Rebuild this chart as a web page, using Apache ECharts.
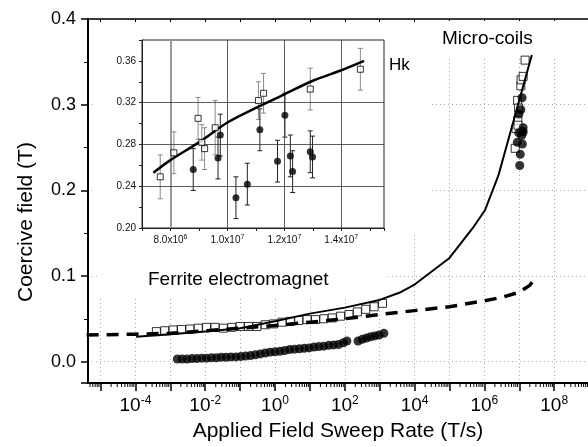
<!DOCTYPE html>
<html>
<head>
<meta charset="utf-8">
<script src="https://cdn.jsdelivr.net/npm/echarts@6/dist/echarts.min.js"></script>
<style>
html, body { margin: 0; padding: 0; background: #fff; }
#chart { width: 588px; height: 447px; }
</style>
</head>
<body>
<div id="chart"></div>
<script>
/* main plot: x is log10 of the sweep rate (T/s), y is coercive field (T) */
var ferriteSqX = [-3.40, -3.16, -2.92, -2.68, -2.44, -2.20, -1.96, -1.72, -1.48, -1.24, -1.00, -0.76, -0.52, -0.28,
	-0.04, 0.20, 0.44, 0.68, 0.92, 1.16, 1.40, 1.64, 1.88, 2.12, 2.36, 2.60, 2.84, 3.08];
var ferriteSqY = [0.035, 0.036, 0.037, 0.0375, 0.038, 0.039, 0.040, 0.040, 0.039, 0.040, 0.041, 0.041, 0.041, 0.043,
	0.044, 0.046, 0.047, 0.048, 0.049, 0.049, 0.050, 0.051, 0.053, 0.055, 0.058, 0.061, 0.064, 0.068];

var ferriteDotX = [-2.80, -2.66, -2.52, -2.38, -2.24, -2.10, -1.96, -1.82, -1.68, -1.54, -1.40, -1.26, -1.12, -0.98,
	-0.84, -0.70, -0.56, -0.42, -0.28, -0.14, 0.00, 0.14, 0.28, 0.42, 0.56, 0.70, 0.84, 0.98, 1.12, 1.26, 1.40,
	1.54, 1.68, 1.82, 1.96, 2.06, 2.38, 2.50, 2.62, 2.74, 2.86, 2.98, 3.12];
var ferriteDotY = [0.003, 0.003, 0.003, 0.0035, 0.0035, 0.004, 0.004, 0.0045, 0.0045, 0.005, 0.005, 0.0055, 0.0055, 0.006,
	0.0065, 0.007, 0.008, 0.009, 0.010, 0.011, 0.0115, 0.012, 0.013, 0.014, 0.0145, 0.015, 0.0155, 0.016, 0.017, 0.0175, 0.018,
	0.019, 0.0195, 0.020, 0.022, 0.024, 0.024, 0.026, 0.0275, 0.029, 0.030, 0.031, 0.033];

// solid curve (Hk)
var hkLineX = [-3.98, -3.0, -2.0, -1.0, 0.0, 1.0, 2.0, 3.0, 3.6, 4.0, 5.0, 5.67, 6.02, 6.4, 7.36];
var hkLineY = [0.029, 0.032, 0.035, 0.039, 0.047, 0.056, 0.063, 0.072, 0.081, 0.090, 0.121, 0.156, 0.177, 0.217, 0.358];

// dashed curve
var hcLineX = [-5.4, -4.0, -3.0, -2.0, -1.0, 0.0, 1.0, 2.0, 3.0, 4.0, 5.0, 6.0, 6.5, 7.0, 7.3, 7.45];
var hcLineY = [0.031, 0.032, 0.033, 0.036, 0.039, 0.042, 0.046, 0.050, 0.055, 0.0595, 0.064, 0.071, 0.075, 0.081, 0.089, 0.097];

/* inset + micro-coils: linear sweep rate (T/s) */
var coilSqX = [7.64e6, 8.12e6, 8.97e6, 9.10e6, 9.20e6, 9.57e6, 1.109e7, 1.127e7, 1.291e7, 1.467e7];
var coilSqY = [0.249, 0.272, 0.305, 0.282, 0.276, 0.296, 0.322, 0.329, 0.333, 0.352];
var coilSqErr = [0.021, 0.020, 0.020, 0.017, 0.020, 0.026, 0.018, 0.019, 0.020, 0.020];

var coilDotX = [8.80e6, 9.67e6, 9.75e6, 1.030e7, 1.070e7, 1.114e7, 1.176e7, 1.202e7, 1.221e7, 1.229e7, 1.291e7, 1.299e7];
var coilDotY = [0.256, 0.267, 0.289, 0.229, 0.242, 0.294, 0.264, 0.308, 0.269, 0.254, 0.273, 0.268];
var coilDotErr = [0.020, 0.020, 0.020, 0.020, 0.020, 0.020, 0.020, 0.021, 0.020, 0.020, 0.020, 0.020];

var coilFitX = [7.4e6, 8e6, 9e6, 1e7, 1.1e7, 1.2e7, 1.3e7, 1.4e7, 1.48e7];
var coilFitY = [0.253, 0.265, 0.282, 0.301, 0.315, 0.328, 0.341, 0.351, 0.360];

// axes
var mainXMin = -5.36, mainXMax = 8.97;
var mainYMin = -0.025, mainYMax = 0.4;
var insetXMin = 7e6, insetXMax = 1.55e7;
var insetYMin = 0.2, insetYMax = 0.38;
var insetXTickVals = [8e6, 1e7, 1.2e7, 1.4e7];
var insetXTickText = ['8.0x10', '1.0x10', '1.2x10', '1.4x10'];
var insetXTickExp = ['6', '7', '7', '7'];
var insetGridX = [8e6, 1e7, 1.2e7, 1.4e7];
var insetGridY = [0.24, 0.28, 0.32];

var FONT = '"Liberation Sans", Arial, sans-serif';

function zip(xs, ys) {
	var out = [];
	for (var i = 0; i < xs.length; i++) out.push([xs[i], ys[i]]);
	return out;
}

function zipLog(xs, ys) {
	var out = [];
	for (var i = 0; i < xs.length; i++) out.push([Math.log10(xs[i]), ys[i]]);
	return out;
}

function zipErr(xs, ys, es) {
	var out = [];
	for (var i = 0; i < xs.length; i++) out.push([xs[i], ys[i], es[i]]);
	return out;
}

// minor log ticks 2..9 of every decade inside the main x range
var minorTicks = [];
for (var d = -6; d <= 9; d++) {
	for (var k = 2; k <= 9; k++) {
		var v = d + Math.log10(k);
		if (v > mainXMin && v < mainXMax) minorTicks.push([v, mainYMin]);
	}
}

function renderMinorTick(params, api) {
	var p = api.coord([api.value(0), api.value(1)]);
	return {
		type: 'line',
		shape: { x1: p[0], y1: p[1], x2: p[0], y2: p[1] + 4 },
		style: { stroke: '#000', lineWidth: 1 }
	};
}

function errRenderer(color) {
	return function(params, api) {
		var x = api.value(0), y = api.value(1), e = api.value(2);
		var lo = api.coord([x, y - e]);
		var hi = api.coord([x, y + e]);
		var w = 2.5;
		var st = { stroke: color, lineWidth: 1 };
		return {
			type: 'group',
			children: [
				{ type: 'line', shape: { x1: lo[0], y1: lo[1], x2: hi[0], y2: hi[1] }, style: st },
				{ type: 'line', shape: { x1: lo[0] - w, y1: lo[1], x2: lo[0] + w, y2: lo[1] }, style: st },
				{ type: 'line', shape: { x1: hi[0] - w, y1: hi[1], x2: hi[0] + w, y2: hi[1] }, style: st }
			]
		};
	};
}

var insetMarkData = [];
insetGridX.forEach(function(v, i) {
	insetMarkData.push({ xAxis: v, lineStyle: i === 0 ? { color: '#9a9a9a', width: 2, type: 'solid' } : { color: '#333', width: 0.8, type: 'solid' } });
});
insetGridY.forEach(function(v) {
	insetMarkData.push({ yAxis: v, lineStyle: { color: '#333', width: 0.8, type: 'solid' } });
});

var chart = echarts.init(document.getElementById('chart'));

var option = {
	animation: false,
	backgroundColor: '#fff',
	grid: [
		{ left: 88, top: 19, right: 0, bottom: 60 },
		{ left: 142, top: 40, width: 242, height: 188, show: true, borderColor: '#222', borderWidth: 1,
			backgroundColor: 'transparent', z: 2 }
	],
	xAxis: [
		{
			type: 'value', gridIndex: 0, position: 'bottom', min: mainXMin, max: mainXMax, splitNumber: 14,
			name: 'Applied Field Sweep Rate (T/s)', nameLocation: 'middle', nameGap: 38,
			nameTextStyle: { fontFamily: FONT, fontSize: 21, color: '#000' },
			axisLine: { onZero: false, lineStyle: { color: '#000', width: 2 } },
			axisTick: { length: 8, lineStyle: { color: '#000', width: 1.5 } },
			splitLine: { show: true, lineStyle: { color: '#aaa', type: [1, 3], width: 1 } },
			axisLabel: {
				margin: 12, showMinLabel: false, showMaxLabel: false,
				formatter: function(v) {
					var r = Math.round(v);
					if (Math.abs(v - r) > 1e-6 || r % 2 !== 0) return '';
					return '{b|10}{s|' + r + '}';
				},
				rich: {
					b: { fontFamily: FONT, fontSize: 19, color: '#000' },
					s: { fontFamily: FONT, fontSize: 12, color: '#000', padding: [0, 0, 10, 0] }
				}
			}
		},
		{
			type: 'value', gridIndex: 0, position: 'top', min: mainXMin, max: mainXMax, splitNumber: 14,
			axisLine: { onZero: false, lineStyle: { color: '#000', width: 1.5 } },
			axisTick: { inside: true, length: 4, lineStyle: { color: '#000' } },
			axisLabel: { show: false }, splitLine: { show: false }
		},
		{
			type: 'value', gridIndex: 1, min: insetXMin, max: insetXMax, interval: 1e6, z: 3,
			axisLine: { onZero: false, lineStyle: { color: '#222', width: 1 } },
			axisTick: { length: 3, lineStyle: { color: '#222' } },
			splitLine: { show: false },
			axisLabel: {
				margin: 6,
				formatter: function(v) {
					for (var i = 0; i < insetXTickVals.length; i++) {
						if (Math.abs(v - insetXTickVals[i]) < 1) return '{n|' + insetXTickText[i] + '}{e|' + insetXTickExp[i] + '}';
					}
					return '';
				},
				rich: {
					n: { fontFamily: FONT, fontSize: 10, color: '#111' },
					e: { fontFamily: FONT, fontSize: 7, color: '#111', padding: [0, 0, 6, 0] }
				}
			}
		}
	],
	yAxis: [
		{
			type: 'value', gridIndex: 0, min: mainYMin, max: mainYMax, splitNumber: 4,
			axisLine: { onZero: false, lineStyle: { color: '#000', width: 2 } },
			axisTick: { length: 7, lineStyle: { color: '#000', width: 1.5 } },
			minorTick: { show: true, splitNumber: 2, length: 4, lineStyle: { color: '#000' } },
			splitLine: { show: true, lineStyle: { color: '#aaa', type: [1, 3], width: 1 } },
			axisLabel: {
				showMinLabel: false, margin: 12, fontFamily: FONT, fontSize: 18, color: '#000',
				formatter: function(v) { return v.toFixed(1); }
			}
		},
		{
			type: 'value', gridIndex: 1, min: insetYMin, max: insetYMax, interval: 0.02, z: 3,
			axisLine: { onZero: false, lineStyle: { color: '#222', width: 1 } },
			axisTick: { length: 3, lineStyle: { color: '#222' } },
			splitLine: { show: false },
			axisLabel: {
				margin: 6, fontFamily: FONT, fontSize: 10, color: '#111',
				formatter: function(v) {
					var c = Math.round(v * 100);
					if (c % 4 !== 0 || v > 0.37) return '';
					return v.toFixed(2);
				}
			}
		}
	],
	graphic: [
		{ type: 'rect', z: 1, shape: { x: 95, y: 22, width: 335, height: 210 }, style: { fill: '#fff' } },
		{ type: 'rect', z: 1, shape: { x: 98, y: 232, width: 289, height: 64 }, style: { fill: '#fff' } },
		{ type: 'rect', z: 1, shape: { x: 430, y: 21, width: 158, height: 36 }, style: { fill: '#fff' } },
		{ type: 'text', z: 10, x: 442, y: 29, style: { text: 'Micro-coils', font: '19px ' + FONT, fill: '#000' } },
		{ type: 'text', z: 10, x: 389, y: 57, style: { text: 'Hk', font: '17px ' + FONT, fill: '#000' } },
		{ type: 'text', z: 10, x: 148, y: 270, style: { text: 'Ferrite electromagnet', font: '19px ' + FONT, fill: '#000' } },
		{ type: 'text', z: 10, x: 16, y: 302, rotation: Math.PI / 2,
			style: { text: 'Coercive field (T)', font: '21px ' + FONT, fill: '#000' } }
	],
	series: [
		{
			type: 'custom', xAxisIndex: 0, yAxisIndex: 0, clip: false, silent: true,
			renderItem: renderMinorTick, data: minorTicks, z: 3
		},
		{
			type: 'scatter', xAxisIndex: 0, yAxisIndex: 0, data: zip(ferriteSqX, ferriteSqY),
			symbol: 'rect', symbolSize: 8, itemStyle: { color: '#fff', borderColor: '#000', borderWidth: 1 }, z: 2
		},
		{
			type: 'line', xAxisIndex: 0, yAxisIndex: 0, data: zip(hcLineX, hcLineY), showSymbol: false,
			lineStyle: { color: '#000', width: 3.5, type: [12, 8] }, z: 3
		},
		{
			type: 'line', xAxisIndex: 0, yAxisIndex: 0, data: zip(hkLineX, hkLineY), showSymbol: false,
			lineStyle: { color: '#000', width: 2 }, z: 3
		},
		{
			type: 'scatter', xAxisIndex: 0, yAxisIndex: 0, data: zip(ferriteDotX, ferriteDotY),
			symbol: 'circle', symbolSize: 9, itemStyle: { color: '#000' }, z: 4
		},
		{
			type: 'scatter', xAxisIndex: 0, yAxisIndex: 0, data: zipLog(coilSqX, coilSqY),
			symbol: 'rect', symbolSize: 8, itemStyle: { color: '#fff', borderColor: '#000', borderWidth: 1 }, z: 2
		},
		{
			type: 'scatter', xAxisIndex: 0, yAxisIndex: 0, data: zipLog(coilDotX, coilDotY),
			symbol: 'circle', symbolSize: 9, itemStyle: { color: '#000' }, z: 4
		},
		// inset
		{
			type: 'line', xAxisIndex: 2, yAxisIndex: 1, data: [], z: 3,
			markLine: { silent: true, symbol: 'none', label: { show: false }, data: insetMarkData }
		},
		{
			type: 'custom', xAxisIndex: 2, yAxisIndex: 1, renderItem: errRenderer('#8a8a8a'),
			data: zipErr(coilSqX, coilSqY, coilSqErr), encode: { x: 0, y: 1 }, z: 4
		},
		{
			type: 'custom', xAxisIndex: 2, yAxisIndex: 1, renderItem: errRenderer('#222'),
			data: zipErr(coilDotX, coilDotY, coilDotErr), encode: { x: 0, y: 1 }, z: 4
		},
		{
			type: 'line', xAxisIndex: 2, yAxisIndex: 1, data: zip(coilFitX, coilFitY), showSymbol: false,
			smooth: 0.3, lineStyle: { color: '#000', width: 2.5 }, z: 5
		},
		{
			type: 'scatter', xAxisIndex: 2, yAxisIndex: 1, data: zip(coilSqX, coilSqY),
			symbol: 'rect', symbolSize: 6, itemStyle: { color: '#fff', borderColor: '#000', borderWidth: 1 }, z: 6
		},
		{
			type: 'scatter', xAxisIndex: 2, yAxisIndex: 1, data: zip(coilDotX, coilDotY),
			symbol: 'circle', symbolSize: 7, itemStyle: { color: '#000' }, z: 6
		}
	]
};

chart.setOption(option);
</script>
</body>
</html>
